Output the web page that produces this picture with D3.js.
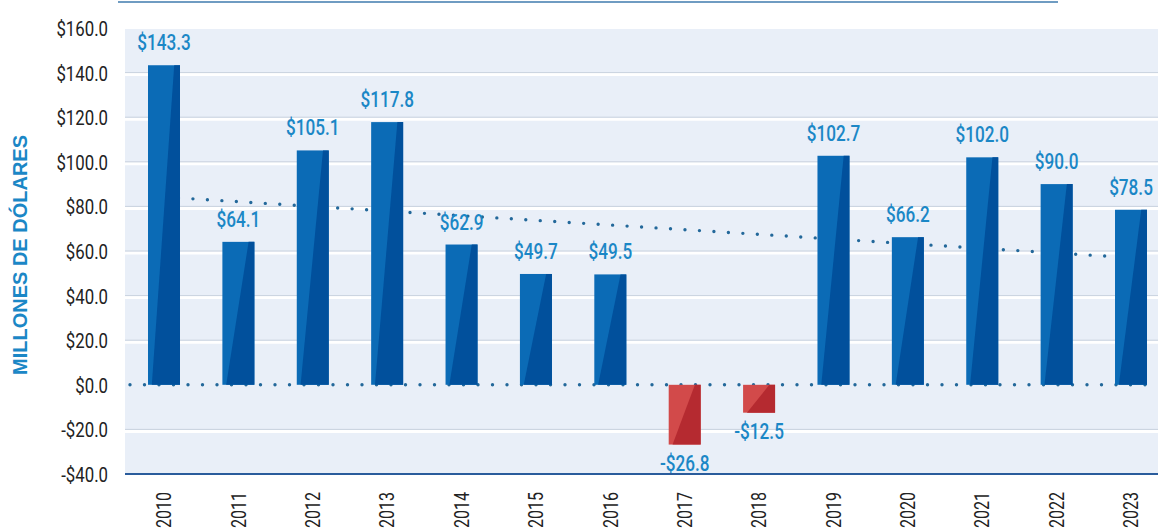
<!DOCTYPE html>
<html><head><meta charset="utf-8">
<script src="https://cdn.jsdelivr.net/npm/d3@7"></script>
<style>
html,body{margin:0;padding:0;background:#fff;}
svg{display:block;}
</style></head>
<body>
<svg id="chart" width="1158" height="532"></svg>
<script>
const years = ["2010","2011","2012","2013","2014","2015","2016","2017","2018","2019","2020","2021","2022","2023"];
const values = [143.3, 64.1, 105.1, 117.8, 62.9, 49.7, 49.5, -26.8, -12.5, 102.7, 66.2, 102.0, 90.0, 78.5];
const yTicks = [-40, -20, 0, 20, 40, 60, 80, 100, 120, 140, 160];
const trendYears = ["2010", "2023"];
const trendValues = [84.2, 57.0];
const axisTitle = "MILLONES DE DÓLARES";

const svg = d3.select("#chart");
const plotLeft = 125, plotRight = 1158;

const x = d3.scaleBand().domain(years).range([126.8, 1168.2]).paddingInner(0.57).paddingOuter(0.285);
const y = d3.scaleLinear().domain([-40, 160]).range([474, 28]);

const font = "Roboto,'DejaVu Sans',sans-serif";
const labelColor = "#1b87c6";
const squeeze = 0.8;

// top decorative line
svg.append("line").attr("x1", 118).attr("x2", 1058).attr("y1", 2).attr("y2", 2)
  .attr("stroke", "#6f9cc2").attr("stroke-width", 2);

// plot background
svg.append("rect").attr("x", plotLeft).attr("y", y(160) + 1).attr("width", plotRight - plotLeft)
  .attr("height", y(-40) - y(160) - 1).attr("fill", "#e9eff8");

// gridlines
const grid = svg.append("g");
yTicks.filter(t => t !== 0 && t !== -40 && t !== 160).forEach(t => {
  grid.append("line").attr("x1", plotLeft).attr("x2", plotRight)
    .attr("y1", y(t) + 2).attr("y2", y(t) + 2).attr("stroke", "#ffffff").attr("stroke-width", 3);
  grid.append("line").attr("x1", plotLeft).attr("x2", plotRight)
    .attr("y1", y(t)).attr("y2", y(t)).attr("stroke", "#c9d2de").attr("stroke-width", 1);
});

// y axis tick labels
const yAxis = d3.axisLeft(y).tickValues(yTicks).tickSize(0).tickPadding(0)
  .tickFormat(d => (d < 0 ? "-$" : "$") + Math.abs(d).toFixed(1));
const gy = svg.append("g").attr("transform", "translate(108,0)").call(yAxis);
gy.select(".domain").remove();
gy.selectAll("text").attr("font-family", font).attr("font-size", 21).attr("fill", "#222")
  .attr("x", 0).attr("dy", "0.36em").attr("transform", `scale(${squeeze},1)`);

// axis title
svg.append("text").attr("transform", "translate(27,255) rotate(-90)")
  .attr("text-anchor", "middle").attr("font-family", "'Liberation Sans','DejaVu Sans',sans-serif")
  .attr("font-weight", "bold").attr("font-size", 20).attr("fill", labelColor).text(axisTitle);

// dotted zero line & trend line (behind bars)
const dotStyle = sel => sel.attr("stroke", "#23689a").attr("stroke-width", 3.4)
  .attr("stroke-linecap", "round").attr("stroke-dasharray", "0,14.5").attr("fill", "none");
svg.append("line").attr("x1", plotLeft + 5).attr("x2", plotRight).attr("y1", y(0)).attr("y2", y(0)).call(dotStyle);
svg.append("line")
  .attr("x1", x(trendYears[0]) + x.bandwidth() / 2).attr("y1", y(trendValues[0]))
  .attr("x2", x(trendYears[1]) + x.bandwidth() / 2).attr("y2", y(trendValues[1]))
  .call(dotStyle);

// bars
const bw = x.bandwidth();
const bars = svg.append("g");
years.forEach((yr, i) => {
  const v = values[i];
  const x0 = x(yr), x1 = x0 + bw;
  const top = y(Math.max(0, v)), bot = y(Math.min(0, v));
  const pos = v >= 0;
  bars.append("rect").attr("x", x0).attr("y", top).attr("width", bw).attr("height", bot - top)
    .attr("fill", pos ? "#0b6bb6" : "#d24a4a");
  bars.append("polygon")
    .attr("points", [[x0 + 0.12 * bw, bot], [x0 + 0.82 * bw, top], [x1, top], [x1, bot]].map(p => p.join(",")).join(" "))
    .attr("fill", pos ? "#01509c" : "#b52a30");
});

// value labels
const labels = svg.append("g");
years.forEach((yr, i) => {
  const v = values[i];
  const cx = x(yr) + bw / 2;
  const ty = v >= 0 ? y(v) - 15 : y(v) + 26;
  const txt = (v < 0 ? "-$" : "$") + Math.abs(v).toFixed(1);
  labels.append("text").attr("transform", `translate(${cx},${ty}) scale(0.78,1)`)
    .attr("text-anchor", "middle").attr("font-family", font).attr("font-weight", 500)
    .attr("font-size", 22).attr("fill", labelColor).text(txt);
});

// bottom axis line
svg.append("line").attr("x1", plotLeft).attr("x2", plotRight).attr("y1", y(-40)).attr("y2", y(-40))
  .attr("stroke", "#2a5c9c").attr("stroke-width", 2);

// x labels
const xAxis = d3.axisBottom(x).tickSize(0).tickPadding(0);
const gx = svg.append("g").attr("transform", "translate(0,528)").call(xAxis);
gx.select(".domain").remove();
gx.selectAll("text").attr("transform", `rotate(-90) scale(${squeeze},1)`).attr("text-anchor", "start")
  .attr("x", 0).attr("y", 0).attr("dy", "0.36em")
  .attr("font-family", font).attr("font-size", 20).attr("fill", "#222");
</script>
</body></html>
